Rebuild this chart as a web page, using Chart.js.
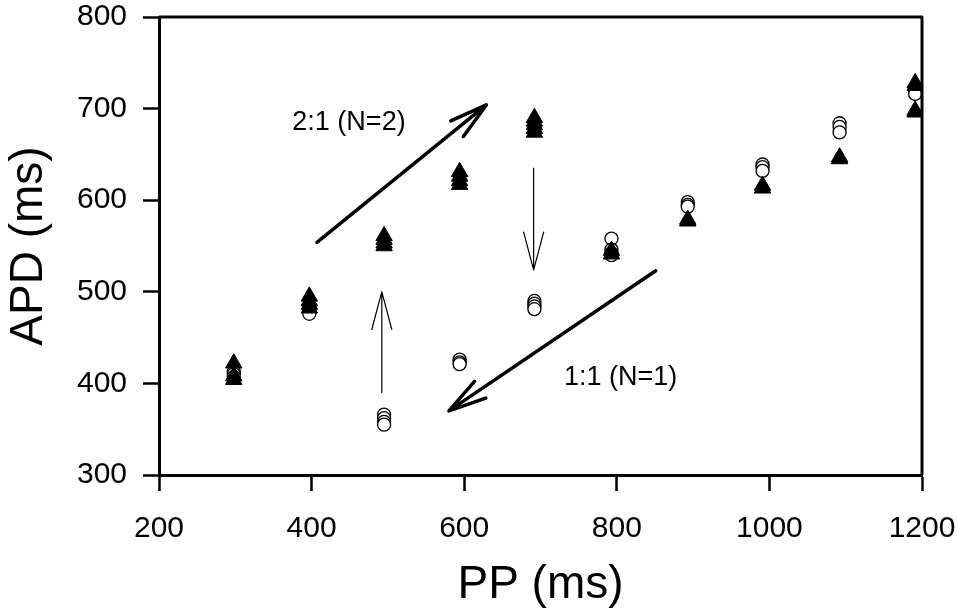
<!DOCTYPE html>
<html>
<head>
<meta charset="utf-8">
<script src="https://cdn.jsdelivr.net/npm/chart.js@4.4.1/dist/chart.umd.min.js"></script>
<style>
    html, body { margin: 0; padding: 0; background: #fff; }
    #wrap { position: relative; width: 957px; height: 613px; }
</style>
</head>
<body>
<div id="wrap"><canvas id="chart"></canvas></div>
<script>
// PP (ms) vs APD (ms)
// open circles
const circlePP  = [298, 298, 298, 397, 397, 397, 495, 495, 495, 495, 594, 594, 594,
                   692, 692, 692, 692, 793, 793, 793, 793, 893, 893, 893,
                   991, 991, 991, 1092, 1092, 1092, 1191, 1191];
const circleAPD = [413, 410, 407, 484, 480, 476, 366, 362, 358, 355, 426, 423, 421,
                   490, 487, 484, 481, 558, 546, 542, 540, 598, 595, 593,
                   639, 636, 632, 684, 680, 674, 719, 716];
// filled triangles
const trianglePP  = [298, 298, 298, 397, 397, 397, 397, 495, 495, 495, 495,
                     594, 594, 594, 594, 692, 692, 692, 692, 692,
                     793, 793, 893, 893, 991, 991, 1092, 1092, 1191, 1191, 1191, 1191];
const triangleAPD = [422, 408, 404, 495, 490, 486, 482, 561, 557, 553, 550,
                     631, 626, 621, 617, 690, 686, 682, 678, 674,
                     545, 541, 579, 577, 616, 613, 647, 645, 728, 725, 698, 696];

const xTicks = [200, 400, 600, 800, 1000, 1200];
const yTicks = [300, 400, 500, 600, 700, 800];

// annotation arrows and labels, in data units
const arrows = [
    { from: [407, 554], to: [629, 704], width: 3.5 },
    { from: [851, 523], to: [580, 370], width: 3.5 },
    { from: [492, 390], to: [492, 500], width: 1.2 },
    { from: [691, 635], to: [691, 524], width: 1.2 }
];
const notes = [
    { text: '2:1 (N=2)', at: [449, 685] },
    { text: '1:1 (N=1)', at: [805, 406] }
];

const FONT = "'Liberation Sans', Arial, Helvetica, sans-serif";

const annotate = {
    id: 'annotate',
    afterDraw(chart) {
        const { ctx, chartArea: ca } = chart;
        const sx = chart.scales.x, sy = chart.scales.y;
        ctx.save();
        ctx.strokeStyle = '#000';
        ctx.fillStyle = '#000';
        ctx.lineCap = 'round';
        ctx.lineJoin = 'round';
        arrows.forEach(a => {
            const x0 = sx.getPixelForValue(a.from[0]), y0 = sy.getPixelForValue(a.from[1]);
            const x1 = sx.getPixelForValue(a.to[0]), y1 = sy.getPixelForValue(a.to[1]);
            const ang = Math.atan2(y0 - y1, x0 - x1);
            ctx.lineWidth = a.width;
            ctx.beginPath();
            ctx.moveTo(x0, y0);
            ctx.lineTo(x1, y1);
            [-1, 1].forEach(s => {
                ctx.moveTo(x1, y1);
                ctx.lineTo(x1 + 39 * Math.cos(ang + s * 0.26), y1 + 39 * Math.sin(ang + s * 0.26));
            });
            ctx.stroke();
        });

        ctx.font = '27px ' + FONT;
        ctx.textAlign = 'center';
        ctx.textBaseline = 'middle';
        notes.forEach(n => {
            ctx.fillText(n.text, sx.getPixelForValue(n.at[0]), sy.getPixelForValue(n.at[1]));
        });

        // top and right frame lines
        ctx.lineCap = 'butt';
        ctx.lineWidth = 3;
        ctx.beginPath();
        ctx.moveTo(ca.left, ca.top);
        ctx.lineTo(ca.right, ca.top);
        ctx.lineTo(ca.right, ca.bottom);
        ctx.stroke();
        ctx.restore();
    }
};

new Chart(document.getElementById('chart'), {
    type: 'scatter',
    data: {
        datasets: [
            {
                label: 'triangles',
                data: trianglePP.map((v, i) => ({ x: v, y: triangleAPD[i] })),
                pointStyle: 'triangle',
                pointRadius: 9.5,
                backgroundColor: '#000',
                borderColor: '#000',
                borderWidth: 1
            },
            {
                label: 'circles',
                data: circlePP.map((v, i) => ({ x: v, y: circleAPD[i] })),
                pointStyle: 'circle',
                pointRadius: 6.5,
                backgroundColor: '#fff',
                borderColor: '#000',
                borderWidth: 1.3
            }
        ]
    },
    options: {
        responsive: true,
        maintainAspectRatio: false,
        animation: false,
        layout: { padding: { top: 17, right: 35, left: 0, bottom: 0 } },
        plugins: {
            legend: { display: false },
            tooltip: { enabled: false }
        },
        scales: {
            x: {
                type: 'linear',
                min: 200,
                max: 1200,
                afterFit: s => { s.height = 138; s.paddingLeft = 0; s.paddingRight = 0; },
                afterBuildTicks: s => { s.ticks = xTicks.map(v => ({ value: v })); },
                grid: { drawOnChartArea: false, drawTicks: true, tickLength: 16, tickWidth: 2.5, tickColor: '#000' },
                border: { display: true, color: '#000', width: 3 },
                ticks: { color: '#000', padding: 20, maxRotation: 0, callback: v => String(v), font: { family: FONT, size: 30 } },
                title: { display: true, text: 'PP (ms)', color: '#000', padding: { top: 0, bottom: 0 }, font: { family: FONT, size: 46 } }
            },
            y: {
                type: 'linear',
                min: 300,
                max: 800,
                afterFit: s => { s.width = 159; s.paddingTop = 0; s.paddingBottom = 0; },
                afterBuildTicks: s => { s.ticks = yTicks.map(v => ({ value: v })); },
                grid: { drawOnChartArea: false, drawTicks: true, tickLength: 16, tickWidth: 2.5, tickColor: '#000' },
                border: { display: true, color: '#000', width: 3 },
                ticks: { color: '#000', padding: 16, callback: v => String(v), font: { family: FONT, size: 30 } },
                title: { display: true, text: 'APD (ms)', color: '#000', padding: { top: 2, bottom: 0 }, font: { family: FONT, size: 46 } }
            }
        }
    },
    plugins: [annotate]
});
</script>
</body>
</html>
